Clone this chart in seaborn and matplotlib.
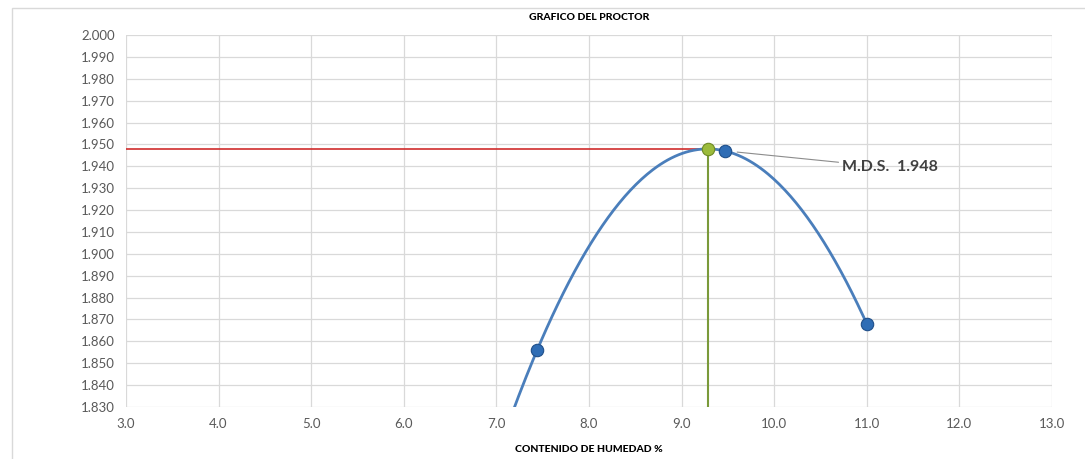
import numpy as np
import pandas as pd
import matplotlib
matplotlib.use("Agg")
import matplotlib.pyplot as plt
import seaborn as sns

# datos del ensayo proctor
humedad = [7.44, 9.47, 11.0]
densidad = [1.856, 1.947, 1.868]
omc = 9.28
mds = 1.948

x_ticks = np.arange(3.0, 13.01, 1.0)
y_ticks = np.arange(1.830, 2.0005, 0.010)

sns.set_style("white")
plt.rcParams['font.family'] = ['Lato', 'DejaVu Sans']

df = pd.DataFrame({"humedad": humedad, "densidad": densidad})

# curva de ajuste (polinomio grado 2)
coef = np.polyfit(humedad, densidad, 2)
xs = np.linspace(7.0, max(humedad), 200)
curva = pd.DataFrame({"humedad": xs, "densidad": np.polyval(coef, xs)})

fig = plt.figure(figsize=(10.85, 4.59), dpi=100)
ax = fig.add_axes([0.1161, 0.1133, 0.8535, 0.8104])

# borde del area del grafico
fig.patches.append(plt.Rectangle((0.011, -0.1), 1.2, 1.082, transform=fig.transFigure,
                                 fill=False, edgecolor="#d9d9d9", linewidth=1))

ax.plot([3.0, omc], [mds, mds], color="#d02c2c", linewidth=1.2, zorder=3)
ax.plot([omc, omc], [1.830, mds], color="#7a9a3a", linewidth=1.5, zorder=3)

sns.lineplot(data=curva, x="humedad", y="densidad", ax=ax, color="#4a7ebb",
             linewidth=2, zorder=4)
sns.scatterplot(data=df, x="humedad", y="densidad", ax=ax, color="#2f6db5",
                edgecolor="#1f4f8a", linewidth=0.8, s=80, zorder=5)
ax.scatter([omc], [mds], s=80, color="#9bbb3b", edgecolor="#6e8a25",
           linewidth=0.8, zorder=6)

ax.annotate("M.D.S.  1.948", xy=(9.6, 1.9465), xytext=(10.73, 1.9395),
            fontsize=11.5, fontweight="bold", color="#404040", va="center",
            arrowprops=dict(arrowstyle="-", color="#8c8c8c", linewidth=0.8,
                            shrinkA=0, shrinkB=0))

ax.set_xlim(3.0, 13.0)
ax.set_ylim(1.830, 2.000)
ax.set_xticks(x_ticks)
ax.set_yticks(y_ticks)
ax.set_xticklabels([f"{v:.1f}" for v in x_ticks])
ax.set_yticklabels([f"{v:.3f}" for v in y_ticks])
ax.tick_params(axis="both", labelsize=9.5, colors="#595959", length=0, pad=8)
ax.grid(True, color="#d9d9d9", linewidth=0.9)
ax.set_axisbelow(True)
for s in ax.spines.values():
    s.set_visible(False)

ax.set_xlabel("CONTENIDO DE HUMEDAD %", fontsize=7.5, fontweight="black",
              color="black", labelpad=11)
ax.set_ylabel("")
ax.set_title("GRAFICO DEL PROCTOR", fontsize=7.5, fontweight="black",
             color="black", pad=11)

fig.savefig("out.png", dpi=100)
